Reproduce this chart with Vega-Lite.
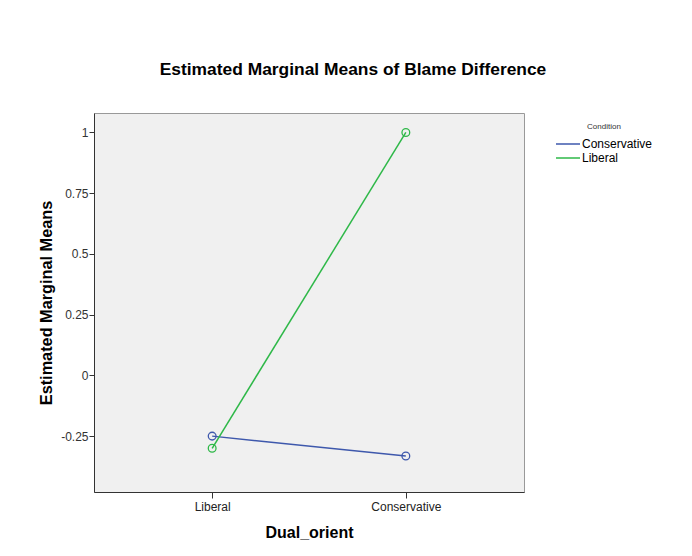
{
  "$schema": "https://vega.github.io/schema/vega-lite/v6.json",
  "width": 430,
  "height": 379,
  "autosize": {"type": "none"},
  "padding": {"left": 94, "top": 113, "right": 168, "bottom": 64},
  "background": "white",
  "title": {
    "text": "Estimated Marginal Means of Blame Difference",
    "font": "Liberation Sans",
    "fontSize": 17.4,
    "fontWeight": "bold",
    "color": "#000000",
    "anchor": "middle",
    "frame": "group",
    "dx": 44,
    "baseline": "alphabetic",
    "offset": 21
  },
  "data": {
    "values": [
      {"Dual_orient": "Liberal", "Condition": "Conservative", "mean": -0.25},
      {"Dual_orient": "Conservative", "Condition": "Conservative", "mean": -0.332},
      {"Dual_orient": "Liberal", "Condition": "Liberal", "mean": -0.30},
      {"Dual_orient": "Conservative", "Condition": "Liberal", "mean": 1.0}
    ]
  },
  "encoding": {
    "x": {
      "field": "Dual_orient",
      "type": "nominal",
      "sort": ["Liberal", "Conservative"],
      "scale": {"type": "point", "padding": 0.61},
      "axis": {
        "title": "Dual_orient",
        "titleFont": "Liberation Sans",
        "titleFontSize": 16,
        "titleFontWeight": "bold",
        "titleColor": "#000000",
        "titlePadding": 12,
        "labelFont": "Liberation Sans",
        "labelFontSize": 12,
        "labelColor": "#222222",
        "labelAngle": 0,
        "labelPadding": 3,
        "tickSize": 6,
        "tickColor": "#333333",
        "domainColor": "#333333",
        "grid": false
      }
    },
    "y": {
      "field": "mean",
      "type": "quantitative",
      "scale": {"domain": [-0.48, 1.08], "nice": false, "zero": false},
      "axis": {
        "title": "Estimated Marginal Means",
        "titleFont": "Liberation Sans",
        "titleFontSize": 16.3,
        "titleFontWeight": "bold",
        "titleColor": "#000000",
        "titlePadding": 6,
        "labelFont": "Liberation Sans",
        "labelFontSize": 12,
        "labelColor": "#333333",
        "labelPadding": 1,
        "values": [-0.25, 0, 0.25, 0.5, 0.75, 1],
        "labelExpr": "'' + datum.value",
        "tickSize": 5,
        "tickColor": "#333333",
        "domainColor": "#333333",
        "grid": false
      }
    },
    "color": {
      "field": "Condition",
      "type": "nominal",
      "scale": {"domain": ["Conservative", "Liberal"], "range": ["#3e58ac", "#2eb848"]},
      "legend": {
        "orient": "none",
        "legendX": 461,
        "legendY": 10,
        "title": "Condition",
        "titleFont": "Liberation Sans",
        "titleFontSize": 8,
        "titleFontWeight": "normal",
        "titleColor": "#333333",
        "titleAnchor": "middle",
        "titleAlign": "center",
        "titlePadding": 7,
        "labelFont": "Liberation Sans",
        "labelFontSize": 12,
        "labelColor": "#000000",
        "labelOffset": 1,
        "symbolType": "stroke",
        "symbolSize": 576,
        "symbolStrokeWidth": 1.5,
        "clipHeight": 12,
        "rowPadding": 2
      }
    }
  },
  "layer": [
    {"mark": {"type": "line", "strokeWidth": 1.5}},
    {"mark": {"type": "point", "filled": false, "size": 60, "strokeWidth": 1.3, "opacity": 1}}
  ],
  "config": {
    "view": {"fill": "#f0f0f0", "stroke": "#999999"}
  }
}
